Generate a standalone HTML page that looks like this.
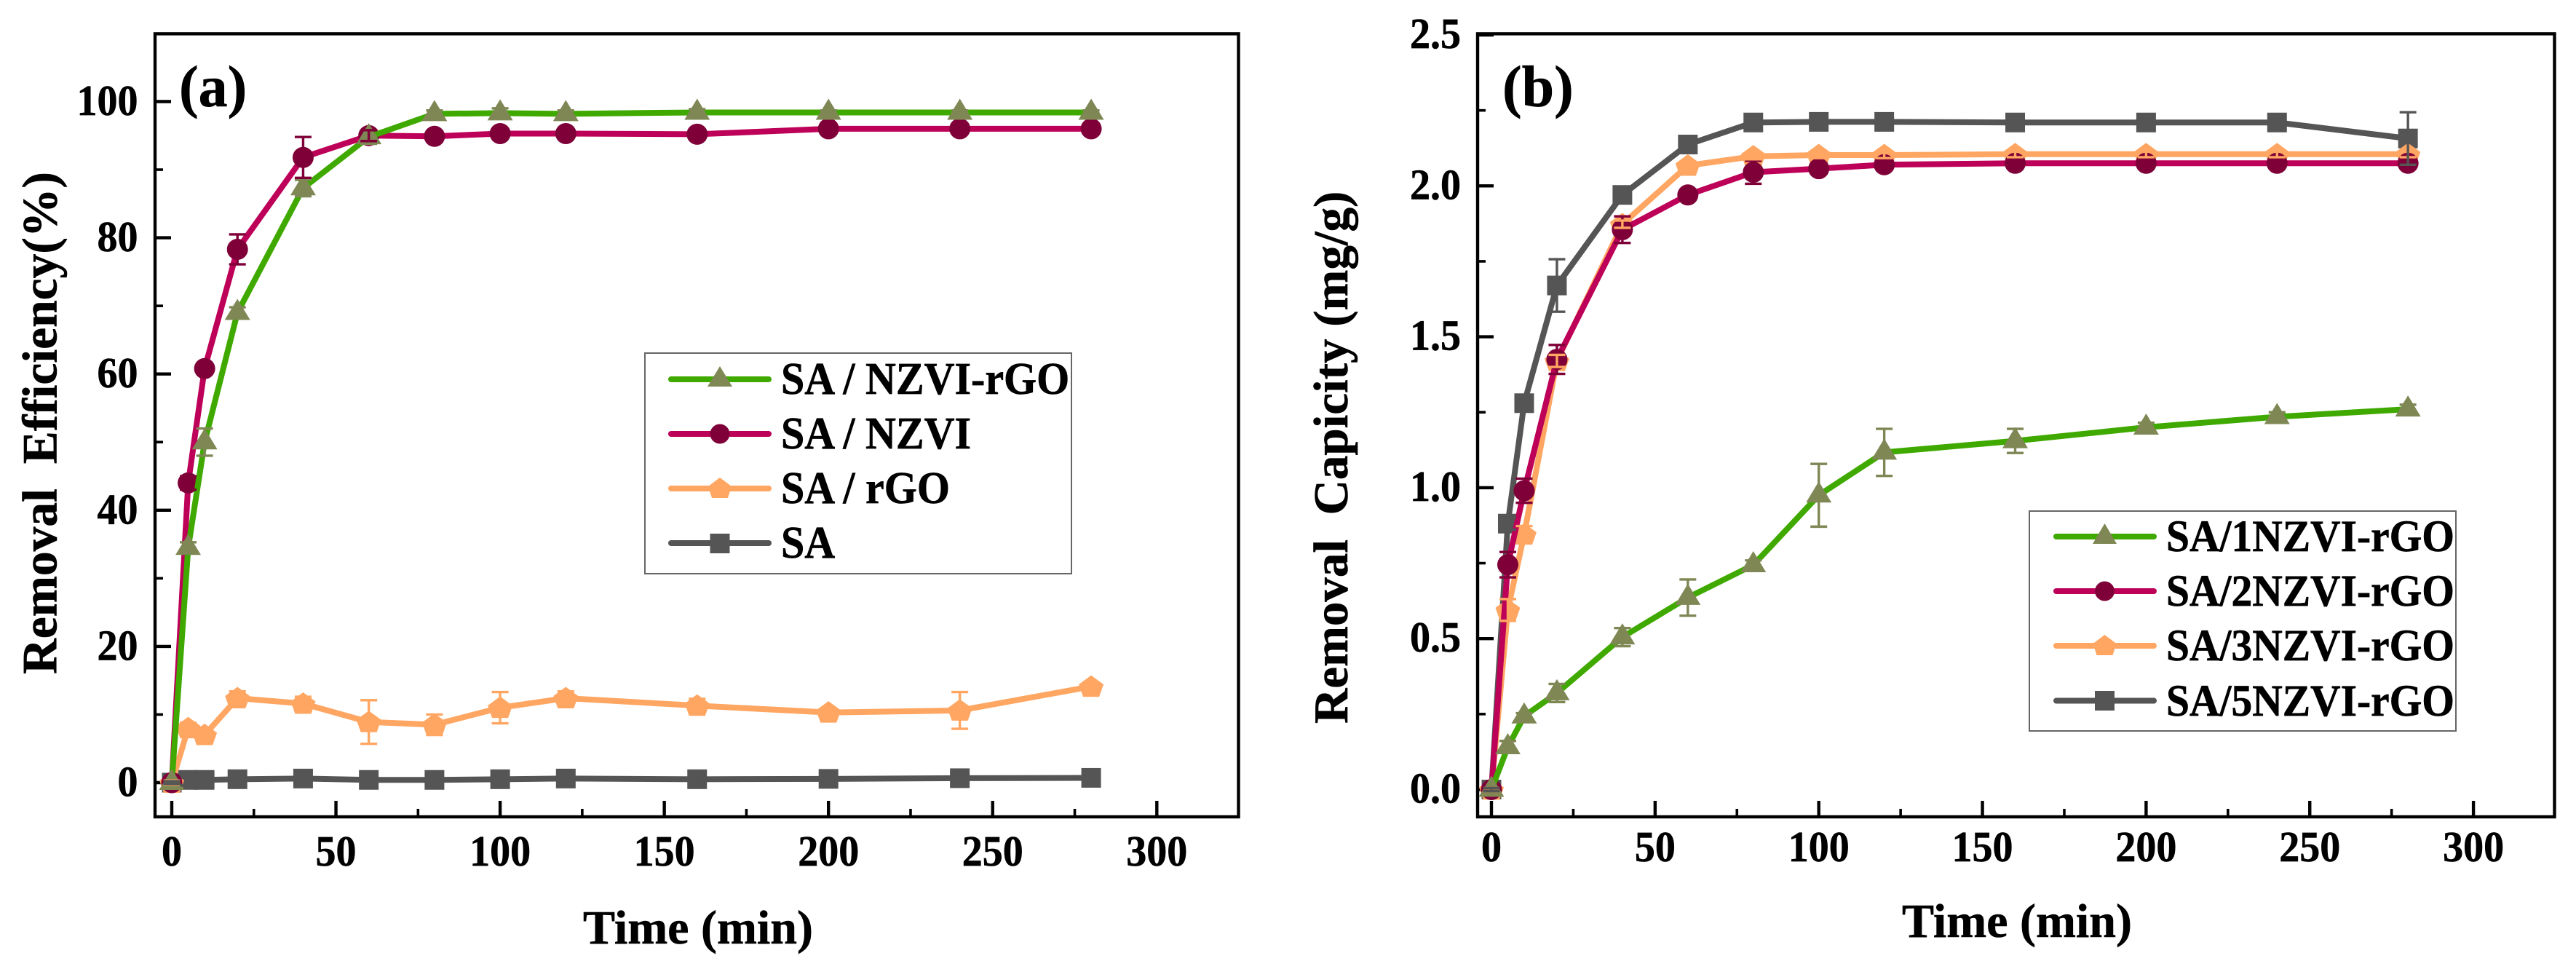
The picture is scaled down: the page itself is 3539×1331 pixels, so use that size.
<!DOCTYPE html>
<html lang="en">
<head>
<meta charset="utf-8">
<title>Removal efficiency and capacity over time</title>
<style>
html,body{margin:0;padding:0;background:#fff;}
body{width:3539px;height:1331px;overflow:hidden;}
svg{display:block;}
text{font-family:"Liberation Serif",serif;font-weight:bold;fill:#000;stroke:#000;stroke-width:0.6px;}
</style>
</head>
<body>
<svg id="figure" xmlns="http://www.w3.org/2000/svg" width="3539" height="1331" viewBox="0 0 3539 1331">
  <rect x="0" y="0" width="3539" height="1331" fill="#ffffff"/>
  <g id="panelA"></g>
  <g id="panelB"></g>

  <g>
    <rect x="886" y="485" width="586" height="303" fill="#fff" stroke="#666" stroke-width="2"/>
    <g>
      <line x1="922" y1="521" x2="1056" y2="521" stroke="#3fa900" stroke-width="8" stroke-linecap="round"/>
      <polygon points="989,503 1006,531 972,531" fill="#7f8755"/>
      <text transform="translate(1073 541) scale(1 1.07)" font-size="58">SA / NZVI-rGO</text>
    </g>
    <g>
      <line x1="922" y1="596" x2="1056" y2="596" stroke="#bd0058" stroke-width="8" stroke-linecap="round"/>
      <circle cx="989" cy="596" r="13.5" fill="#7f0038"/>
      <text transform="translate(1073 616) scale(1 1.07)" font-size="58">SA / NZVI</text>
    </g>
    <g>
      <line x1="922" y1="671" x2="1056" y2="671" stroke="#ffa662" stroke-width="8" stroke-linecap="round"/>
      <polygon points="989,656 1005,668 1000,684 978,684 973,668" fill="#ffa662"/>
      <text transform="translate(1073 691) scale(1 1.07)" font-size="58">SA / rGO</text>
    </g>
    <g>
      <line x1="922" y1="746" x2="1056" y2="746" stroke="#555555" stroke-width="8" stroke-linecap="round"/>
      <rect x="975.5" y="733" width="27" height="27" fill="#555555"/>
      <text transform="translate(1073 766) scale(1 1.07)" font-size="58">SA</text>
    </g>
  </g>

  <g>
    <rect x="2788" y="702" width="586" height="302" fill="#fff" stroke="#666" stroke-width="2"/>
    <g>
      <line x1="2825" y1="737" x2="2959" y2="737" stroke="#3fa900" stroke-width="8" stroke-linecap="round"/>
      <polygon points="2891.5,719 2908,747 2875,747" fill="#7f8755"/>
      <text transform="translate(2976 757) scale(1 1.07)" font-size="57.5">SA/1NZVI-rGO</text>
    </g>
    <g>
      <line x1="2825" y1="812" x2="2959" y2="812" stroke="#bd0058" stroke-width="8" stroke-linecap="round"/>
      <circle cx="2891.5" cy="812" r="13.5" fill="#7f0038"/>
      <text transform="translate(2976 832) scale(1 1.07)" font-size="57.5">SA/2NZVI-rGO</text>
    </g>
    <g>
      <line x1="2825" y1="887" x2="2959" y2="887" stroke="#ffa662" stroke-width="8" stroke-linecap="round"/>
      <polygon points="2891.5,872 2907.5,884 2902.5,900 2880.5,900 2875.5,884" fill="#ffa662"/>
      <text transform="translate(2976 907) scale(1 1.07)" font-size="57.5">SA/3NZVI-rGO</text>
    </g>
    <g>
      <line x1="2825" y1="962.5" x2="2959" y2="962.5" stroke="#555555" stroke-width="8" stroke-linecap="round"/>
      <rect x="2878" y="949" width="27" height="27" fill="#555555"/>
      <text transform="translate(2976 983) scale(1 1.07)" font-size="57.5">SA/5NZVI-rGO</text>
    </g>
  </g>
</svg>
<script>
// Shared x values (minutes)
const timeMinutes = [0, 5, 10, 20, 40, 60, 80, 100, 120, 160, 200, 240, 280];
const xMajorTicks = [0, 50, 100, 150, 200, 250, 300];
const xMinorTicks = [25, 75, 125, 175, 225, 275];

// Panel (a) values: removal efficiency (%)
const aSaNzviRgo = [0, 34.5, 50, 69, 87.3, 94.8, 98.2, 98.3, 98.2, 98.4, 98.4, 98.4, 98.4];
const aSaNzviRgoErr = [0.3, 0.8, 2, 0.8, 1.2, 1, 0.5, 0.7, 0.5, 0.5, 0.3, 0.3, 0.3];
const aSaNzvi = [0, 44, 60.8, 78.3, 91.8, 95, 94.9, 95.3, 95.3, 95.2, 96, 96, 96];
const aSaNzviErr = [0.3, 1, 0.5, 2.2, 3, 0.8, 0.5, 0.7, 0.5, 0.7, 0.6, 0.6, 0.6];
const aSaRgo = [0, 8, 7, 12.4, 11.6, 8.9, 8.5, 11, 12.4, 11.3, 10.3, 10.6, 14.1];
const aSaRgoErr = [0.3, 0.8, 1, 1, 1, 3.2, 1.5, 2.3, 1, 1, 0.5, 2.7, 0.5];
const aSa = [0, 0.4, 0.4, 0.5, 0.6, 0.4, 0.4, 0.5, 0.6, 0.5, 0.55, 0.65, 0.7];
const aSaErr = [0.2, 0.8, 0.8, 0.8, 0.9, 0.7, 0.8, 0.7, 0.8, 0.8, 0.6, 0.6, 0.5];
const aYMajorTicks = [0, 20, 40, 60, 80, 100];
const aYMinorTicks = [10, 30, 50, 70, 90];
const aYTickLabels = ["0", "20", "40", "60", "80", "100"];

// Panel (b) values: removal capacity (mg/g)
const bSa1 = [0, 0.141, 0.243, 0.32, 0.505, 0.636, 0.744, 0.975, 1.117, 1.155, 1.2, 1.235, 1.26];
const bSa1Err = [0.005, 0.02, 0.01, 0.03, 0.03, 0.06, 0.015, 0.104, 0.078, 0.04, 0.015, 0.015, 0.015];
const bSa2 = [0, 0.745, 0.99, 1.425, 1.855, 1.97, 2.045, 2.057, 2.07, 2.075, 2.075, 2.075, 2.075];
const bSa2Err = [0.005, 0.042, 0.04, 0.048, 0.044, 0.012, 0.038, 0.012, 0.012, 0.012, 0.012, 0.012, 0.012];
const bSa3 = [0, 0.595, 0.845, 1.42, 1.873, 2.067, 2.098, 2.102, 2.102, 2.105, 2.105, 2.105, 2.105];
const bSa3Err = [0.005, 0.036, 0.028, 0.02, 0.012, 0.012, 0.01, 0.01, 0.01, 0.01, 0.01, 0.01, 0.01];
const bSa5 = [0, 0.881, 1.28, 1.67, 1.97, 2.137, 2.21, 2.212, 2.212, 2.21, 2.21, 2.21, 2.157];
const bSa5Err = [0.005, 0.02, 0.02, 0.087, 0.012, 0.015, 0.015, 0.012, 0.012, 0.012, 0.01, 0.01, 0.087];
const bYMajorTicks = [0, 0.5, 1, 1.5, 2, 2.5];
const bYMinorTicks = [0.25, 0.75, 1.25, 1.75, 2.25];
const bYTickLabels = ["0.0", "0.5", "1.0", "1.5", "2.0", "2.5"];

const NS = "http://www.w3.org/2000/svg";
const GREEN = "#3fa900", OLIVE = "#7f8755", PINK = "#bd0058", MAROON = "#7f0038", ORANGE = "#ffa662", DARK = "#555555";

function make(tag, attrs, parent) {
  const el = document.createElementNS(NS, tag);
  for (const k in attrs) el.setAttribute(k, attrs[k]);
  parent.appendChild(el);
  return el;
}
function xA(t) { return 236 + 4.511 * t; }
function yA(v) { return 1075 - 9.355 * v; }
function xB(t) { return 2049 + 4.497 * t; }
function yB(v) { return 1084.5 - 414.6 * v; }

function drawMarker(kind, x, y, fill, parent) {
  let el;
  if (kind === "triangle") {
    el = make("polygon", {points: (x) + "," + (y - 19) + " " + (x + 17.5) + "," + (y + 10) + " " + (x - 17.5) + "," + (y + 10), fill: fill}, parent);
  } else if (kind === "circle") {
    el = make("circle", {cx: x, cy: y, r: 14.5, fill: fill}, parent);
  } else if (kind === "pentagon") {
    el = make("polygon", {points: x + "," + (y - 15.5) + " " + (x + 17) + "," + (y - 3) + " " + (x + 11) + "," + (y + 14) + " " + (x - 11) + "," + (y + 14) + " " + (x - 17) + "," + (y - 3), fill: fill}, parent);
  } else {
    el = make("rect", {x: x - 13.5, y: y - 13.5, width: 27, height: 27, fill: fill}, parent);
  }
  
  
}

function drawSeries(parent, name, values, xf, yf, line, markerColor, kind) {
  const g = make("g", {}, parent);
  
  
  const pts = values.map(function (v, i) { return xf(timeMinutes[i]) + "," + yf(v); }).join(" ");
  const pl = make("polyline", {points: pts, fill: "none", stroke: line, "stroke-width": 8, "stroke-linejoin": "round"}, g);
  
  
  values.forEach(function (v, i) {
    drawMarker(kind, xf(timeMinutes[i]), yf(v), markerColor, g);
  });
}

function drawErrors(parent, name, values, errs, xf, yf, color) {
  const g = make("g", {stroke: color, fill: "none"}, parent);
  
  
  values.forEach(function (v, i) {
    const x = xf(timeMinutes[i]), y1 = yf(v - errs[i]), y2 = yf(v + errs[i]);
    const p = make("path", {d: "M" + x + " " + y1 + "V" + y2 + "M" + (x - 11.5) + " " + y1 + "H" + (x + 11.5) + "M" + (x - 11.5) + " " + y2 + "H" + (x + 11.5), "stroke-width": 3.4}, g);
    
    
  });
}

function drawAxes(parent, box, xf, yf, yMajors, yMinors, yLabels, xBase, yLabelRight, yLabelOffset) {
  const frame = make("rect", {x: box.l, y: box.t, width: box.r - box.l, height: box.b - box.t, fill: "none", stroke: "#000", "stroke-width": 4.4}, parent);
  
  
  xMajorTicks.forEach(function (t) {
    const tk = make("line", {x1: xf(t), x2: xf(t), y1: box.b, y2: box.b - 22, stroke: "#000", "stroke-width": 4.4}, parent);
    
    
    const lb = make("text", {transform: "translate(" + xf(t) + " " + xBase + ") scale(1 1.06)", "font-size": 56, "text-anchor": "middle"}, parent);
    lb.textContent = String(t);
    
    
  });
  xMinorTicks.forEach(function (t) {
    const tk = make("line", {x1: xf(t), x2: xf(t), y1: box.b, y2: box.b - 11, stroke: "#000", "stroke-width": 3.6}, parent);
    
    
  });
  yMajors.forEach(function (v, i) {
    const tk = make("line", {x1: box.l, x2: box.l + 22, y1: yf(v), y2: yf(v), stroke: "#000", "stroke-width": 4.4}, parent);
    
    
    const lb = make("text", {transform: "translate(" + yLabelRight + " " + (yf(v) + yLabelOffset) + ") scale(1 1.06)", "font-size": 56, "text-anchor": "end"}, parent);
    lb.textContent = yLabels[i];
    
    
  });
  yMinors.forEach(function (v) {
    const tk = make("line", {x1: box.l, x2: box.l + 11, y1: yf(v), y2: yf(v), stroke: "#000", "stroke-width": 3.6}, parent);
    
    
  });
}

function addTitle(parent, text, x, y, size, rotate, name, anchor) {
  const attrs = {x: x, y: y, "font-size": size, "text-anchor": anchor};
  if (rotate) attrs.transform = "rotate(-90 " + x + " " + y + ")";
  const el = make("text", attrs, parent);
  el.setAttribute("xml:space", "preserve");
  el.style.whiteSpace = "pre";
  el.textContent = text;
  
  
}

// Panel (a)
const pa = document.getElementById("panelA");
drawAxes(pa, {l: 213, t: 46.4, r: 1701.5, b: 1122}, xA, yA, aYMajorTicks, aYMinorTicks, aYTickLabels, 1189, 189.5, 18.5);
drawSeries(pa, "sa", aSa, xA, yA, DARK, DARK, "square");
drawSeries(pa, "sa-rgo", aSaRgo, xA, yA, ORANGE, ORANGE, "pentagon");
drawSeries(pa, "sa-nzvi", aSaNzvi, xA, yA, PINK, MAROON, "circle");
drawSeries(pa, "sa-nzvi-rgo", aSaNzviRgo, xA, yA, GREEN, OLIVE, "triangle");
drawErrors(pa, "sa-nzvi-rgo", aSaNzviRgo, aSaNzviRgoErr, xA, yA, OLIVE);
drawErrors(pa, "sa-nzvi", aSaNzvi, aSaNzviErr, xA, yA, MAROON);
drawErrors(pa, "sa-rgo", aSaRgo, aSaRgoErr, xA, yA, ORANGE);
drawErrors(pa, "sa", aSa, aSaErr, xA, yA, DARK);
addTitle(pa, "Removal  Efficiency(%)", 77.5, 926, 67.5, true, "y-axis-title-a", "start");
addTitle(pa, "Time (min)", 959, 1296, 66, false, "x-axis-title-a", "middle");
addTitle(pa, "(a)", 246, 146, 80, false, "panel-label-a", "start");

// Panel (b)
const pb = document.getElementById("panelB");
drawAxes(pb, {l: 2030, t: 46.4, r: 3509.5, b: 1122}, xB, yB, bYMajorTicks, bYMinorTicks, bYTickLabels, 1183, 2007, 18);
drawSeries(pb, "sa-5nzvi-rgo", bSa5, xB, yB, DARK, DARK, "square");
drawSeries(pb, "sa-3nzvi-rgo", bSa3, xB, yB, ORANGE, ORANGE, "pentagon");
drawSeries(pb, "sa-2nzvi-rgo", bSa2, xB, yB, PINK, MAROON, "circle");
drawSeries(pb, "sa-1nzvi-rgo", bSa1, xB, yB, GREEN, OLIVE, "triangle");
drawErrors(pb, "sa-1nzvi-rgo", bSa1, bSa1Err, xB, yB, OLIVE);
drawErrors(pb, "sa-2nzvi-rgo", bSa2, bSa2Err, xB, yB, MAROON);
drawErrors(pb, "sa-3nzvi-rgo", bSa3, bSa3Err, xB, yB, ORANGE);
drawErrors(pb, "sa-5nzvi-rgo", bSa5, bSa5Err, xB, yB, DARK);
addTitle(pb, "Removal  Capicity (mg/g)", 1851, 994, 67, true, "y-axis-title-b", "start");
addTitle(pb, "Time (min)", 2771, 1287, 66, false, "x-axis-title-b", "middle");
addTitle(pb, "(b)", 2064, 146, 80, false, "panel-label-b", "start");
</script>
</body>
</html>
